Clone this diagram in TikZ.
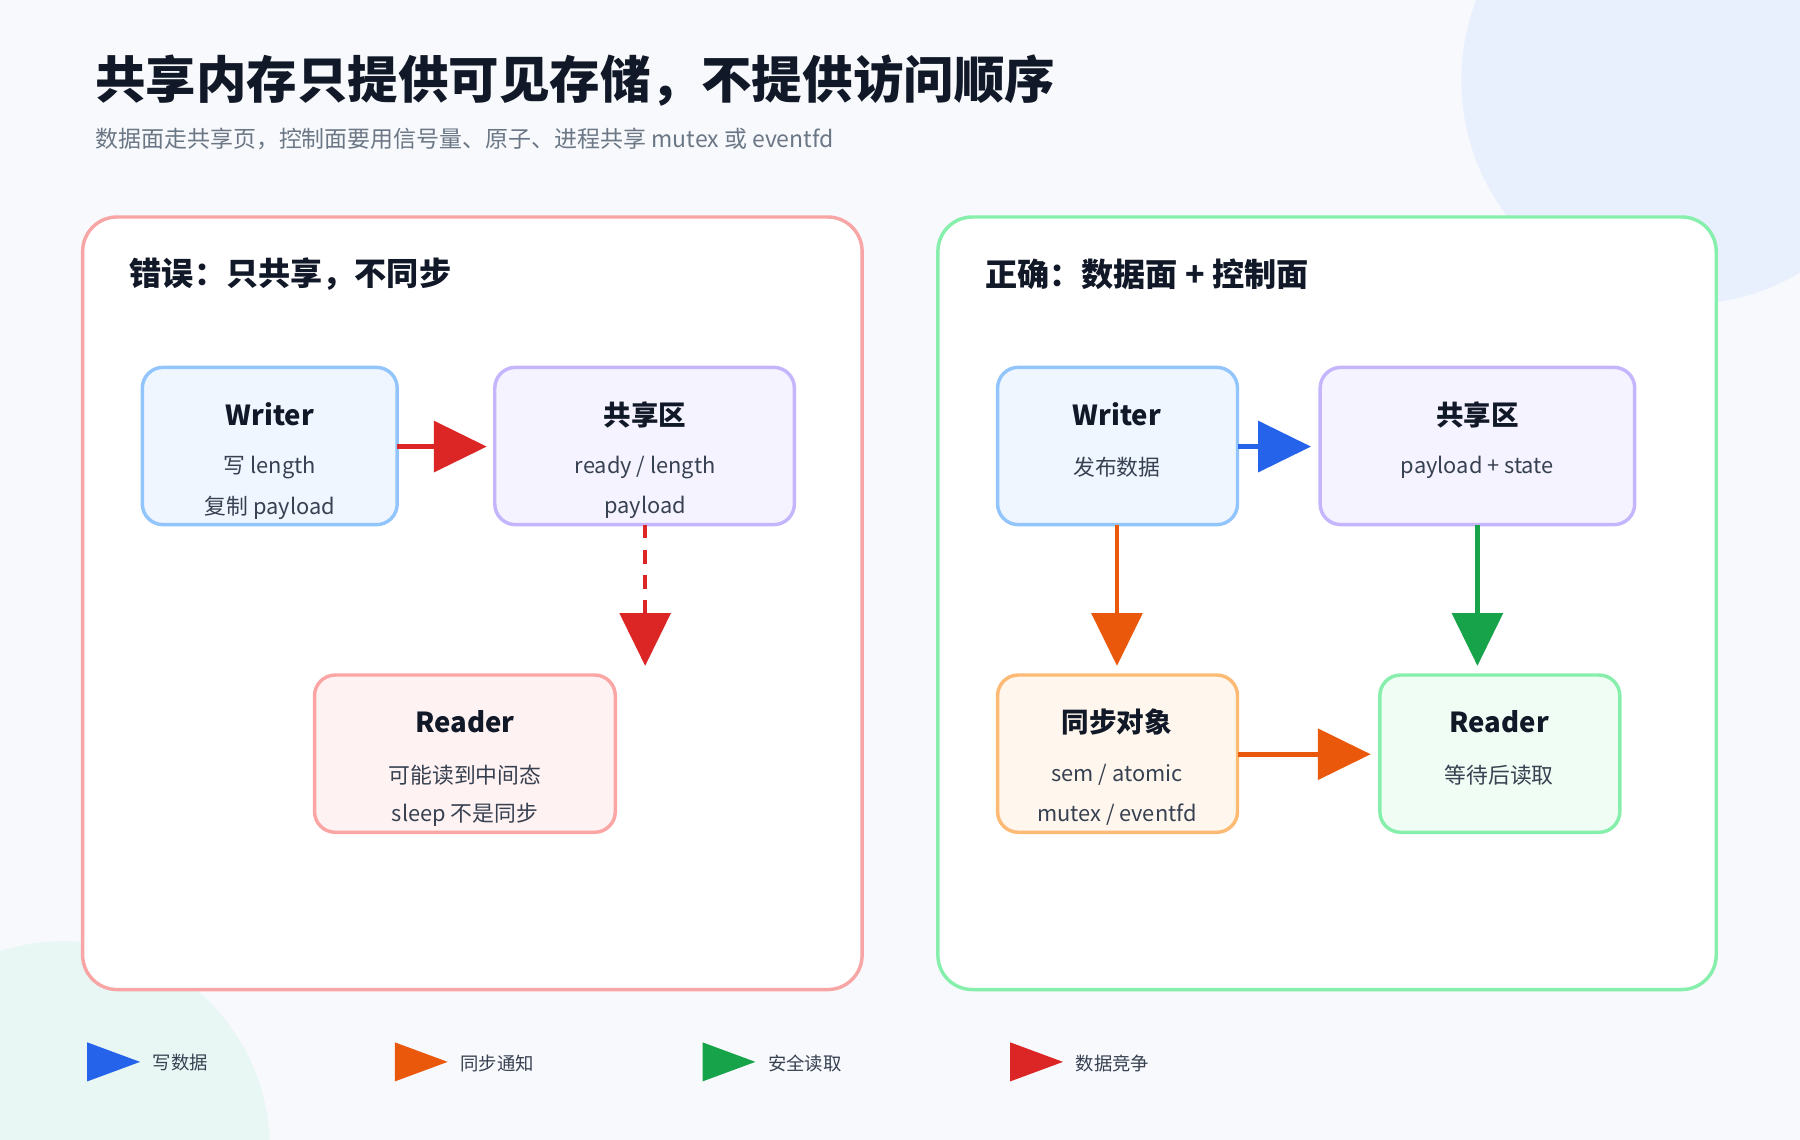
\documentclass[tikz,border=0pt]{standalone}
\usepackage{fontspec}
\setmainfont{Noto Sans CJK SC}
\usetikzlibrary{arrows.meta}
\definecolor{bg}{HTML}{F7F9FC}
\definecolor{ink}{HTML}{111827}
\definecolor{sub}{HTML}{6B7785}
\definecolor{txt}{HTML}{374151}
\definecolor{cred}{HTML}{DC2626}
\definecolor{cblue}{HTML}{2563EB}
\definecolor{corange}{HTML}{EA580C}
\definecolor{cgreen}{HTML}{16A34A}
\tikzset{
 box/.style={draw, line width=1.5pt, rounded corners=9pt},
 panel/.style={draw, line width=1.5pt, fill=white, rounded corners=15pt},
 arr/.style={line width=2pt, -{Triangle[length=23pt,width=22pt]}},
 ttl/.style={font=\bfseries\fontsize{12}{14}\selectfont, text=ink},
 ln/.style={font=\fontsize{9.5}{11}\selectfont, text=txt},
 leg/.style={font=\fontsize{8}{10}\selectfont, text=txt, anchor=west},
}
\begin{document}
\begin{tikzpicture}[x=0.5pt,y=-0.5pt]
\fill[bg] (0,0) rectangle (1568,993);
\useasboundingbox (0,0) rectangle (1568,993);
\begin{scope}
\clip (0,0) rectangle (1568,993);
\fill[fill={rgb,255:red,232;green,240;blue,253}] (1468,70) circle (195);
\fill[fill={rgb,255:red,232;green,247;blue,244}] (55,1000) circle (180);
\end{scope}
\node[anchor=west, font=\bfseries\fontsize{22}{26}\selectfont, text=ink] (title) at (76,70) {共享内存只提供可见存储，不提供访问顺序};
\node[anchor=west, font=\fontsize{10}{12}\selectfont, text=sub] (subt) at (76,121) {数据面走共享页，控制面要用信号量、原子、进程共享 mutex 或 eventfd};
% panels
\draw[panel, draw={rgb,255:red,248;green,165;blue,165}] (72,189) rectangle (751,862);
\draw[panel, draw={rgb,255:red,134;green,239;blue,172}] (817,189) rectangle (1495,862);
\node[anchor=west, font=\bfseries\fontsize{14}{16}\selectfont, text=ink] (lh) at (106,239) {错误：只共享，不同步};
\node[anchor=west, font=\bfseries\fontsize{14}{16}\selectfont, text=ink] (rh) at (851,239) {正确：数据面 + 控制面};
% left nodes
\draw[box, fill={rgb,255:red,239;green,246;blue,255}, draw={rgb,255:red,147;green,197;blue,253}] (124,320) rectangle (346,457);
\node[ttl] at (235,361) {Writer};
\node[ln] at (235,407) {写 length};
\node[ln] at (235,442) {复制 payload};
\coordinate (lw) at (346,389);
\draw[box, fill={rgb,255:red,245;green,243;blue,255}, draw={rgb,255:red,196;green,181;blue,253}] (431,320) rectangle (692,457);
\node[ttl] at (562,361) {共享区};
\node[ln] at (562,407) {ready / length};
\node[ln] at (562,442) {payload};
\coordinate (ls) at (424,389);
\coordinate (lsb) at (562,457);
\draw[box, fill={rgb,255:red,254;green,242;blue,242}, draw={rgb,255:red,252;green,165;blue,165}] (274,588) rectangle (536,725);
\node[ttl] at (405,629) {Reader};
\node[ln] at (405,675) {可能读到中间态};
\node[ln] at (405,710) {sleep 不是同步};
\coordinate (lr) at (562,580);
\draw[arr, cred] (lw) -- (ls);
\draw[arr, cred, dash pattern=on 6pt off 5pt] (lsb) -- (lr);
% right nodes
\draw[box, fill={rgb,255:red,239;green,246;blue,255}, draw={rgb,255:red,147;green,197;blue,253}] (869,320) rectangle (1078,457);
\node[ttl] at (973,361) {Writer};
\node[ln] at (973,407) {发布数据};
\draw[box, fill={rgb,255:red,245;green,243;blue,255}, draw={rgb,255:red,196;green,181;blue,253}] (1150,320) rectangle (1424,457);
\node[ttl] at (1287,361) {共享区};
\node[ln] at (1287,407) {payload + state};
\draw[box, fill={rgb,255:red,255;green,247;blue,237}, draw={rgb,255:red,253;green,186;blue,116}] (869,588) rectangle (1078,725);
\node[ttl] at (973,629) {同步对象};
\node[ln] at (973,675) {sem / atomic};
\node[ln] at (973,710) {mutex / eventfd};
\draw[box, fill={rgb,255:red,240;green,253;blue,244}, draw={rgb,255:red,134;green,239;blue,172}] (1202,588) rectangle (1411,725);
\node[ttl] at (1306,629) {Reader};
\node[ln] at (1306,675) {等待后读取};
\coordinate (a1) at (1078,389); \coordinate (a2) at (1142,389);
\coordinate (b1) at (973,457); \coordinate (b2) at (973,580);
\coordinate (c1) at (1287,457); \coordinate (c2) at (1287,580);
\coordinate (d1) at (1078,657); \coordinate (d2) at (1194,657);
\draw[arr, cblue] (a1) -- (a2);
\draw[arr, corange] (b1) -- (b2);
\draw[arr, cgreen] (c1) -- (c2);
\draw[arr, corange] (d1) -- (d2);
% legend
\foreach \x/\c/\t in {76/cblue/写数据, 344/corange/同步通知, 612/cgreen/安全读取, 880/cred/数据竞争}{
 \fill[\c] (\x,908) -- (\x+46,925) -- (\x,942) -- cycle;
 \node[leg] at (\x+50,926) {\t};
}
\end{tikzpicture}
\end{document}
